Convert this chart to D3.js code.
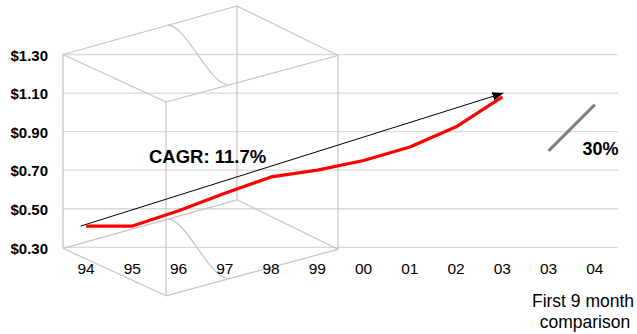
<!DOCTYPE html>
<html>
<head>
<meta charset="utf-8">
<script src="https://cdn.jsdelivr.net/npm/d3@7"></script>
<style>
  html, body { margin: 0; padding: 0; background: #fff; }
  svg { display: block; font-family: "Liberation Sans", Arial, Helvetica, sans-serif; }
</style>
</head>
<body>
<svg id="chart" width="637" height="334"></svg>
<script>
// Category keys along the bottom (annual years, then the two nine-month periods)
const categories = ["94", "95", "96", "97", "98", "99", "00", "01", "02", "03", "03 9M", "04 9M"];
const tickLabels = ["94", "95", "96", "97", "98", "99", "00", "01", "02", "03", "03", "04"];

// Annual earnings per share
const annualYears = ["94", "95", "96", "97", "98", "99", "00", "01", "02", "03"];
const annualValues = [0.41, 0.41, 0.49, 0.58, 0.665, 0.70, 0.75, 0.82, 0.925, 1.08];

// First nine months comparison
const nineMonthCats = ["03 9M", "04 9M"];
const nineMonthValues = [0.80, 1.04];

// Trend arrow (compound annual growth)
const cagrCats = ["94", "03"];
const cagrValues = [0.41, 1.10];
const cagrLabel = "CAGR: 11.7%";
const growthLabel = "30%";

const yTicks = [0.30, 0.50, 0.70, 0.90, 1.10, 1.30];

const svg = d3.select("#chart");
const plot = { left: 63, right: 618, top: 54.5, bottom: 247.3 };

const x = d3.scaleBand().domain(categories).range([plot.left, plot.right]);
const y = d3.scaleLinear().domain([0.30, 1.30]).range([plot.bottom, plot.top]);
const cx = c => x(c) + x.bandwidth() / 2;

// Horizontal gridlines
svg.append("g")
  .selectAll("line")
  .data(yTicks)
  .join("line")
  .attr("x1", plot.left).attr("x2", plot.right)
  .attr("y1", d => y(d)).attr("y2", d => y(d))
  .attr("stroke", "#d9d9d9").attr("stroke-width", 1.3);

// Decorative wire box behind the series
const boxH = plot.bottom - plot.top + 1;
const corner = [
  [0, 0], [103, 47.5], [275, 1], [174, -48.5]
].map(([dx, dy]) => [plot.left + dx, plot.top + dy]);
const box = svg.append("g").attr("fill", "none").attr("stroke", "#c4c4c4").attr("stroke-width", 1.2);
const edges = [[0, 1], [1, 2], [2, 3], [3, 0]];
[0, boxH].forEach(off => {
  edges.forEach(([a, b]) => {
    box.append("line")
      .attr("x1", corner[a][0]).attr("y1", corner[a][1] + off)
      .attr("x2", corner[b][0]).attr("y2", corner[b][1] + off);
  });
});
corner.forEach(([px, py]) => {
  box.append("line").attr("x1", px).attr("y1", py).attr("x2", px).attr("y2", py + boxH);
});
// S-shaped folds on the top and bottom faces
[0, boxH].forEach(off => {
  const p = d3.path();
  p.moveTo(corner[0][0] + 105, 25.3 + off);
  p.bezierCurveTo(corner[0][0] + 122, 24 + off, corner[0][0] + 147, 84.5 + off, corner[0][0] + 164, 84.3 + off);
  box.append("path").attr("d", p.toString());
});

// Y axis labels
const yAxis = d3.axisLeft(y).tickValues(yTicks).tickSize(0).tickPadding(0)
  .tickFormat(d => "$" + d3.format(".2f")(d));
const gy = svg.append("g").attr("transform", "translate(48,0)").call(yAxis);
gy.select(".domain").remove();
gy.selectAll("text")
  .attr("font-family", "Liberation Sans, Arial, sans-serif")
  .attr("font-size", "15px").attr("font-weight", "bold").attr("fill", "#000")
  .attr("dy", "0.38em");

// X axis labels
const xAxis = d3.axisBottom(x).tickSize(0).tickPadding(0)
  .tickFormat((d, i) => tickLabels[i]);
const gx = svg.append("g").attr("transform", "translate(0,274)").call(xAxis);
gx.select(".domain").remove();
gx.selectAll("text")
  .attr("font-family", "Liberation Sans, Arial, sans-serif")
  .attr("font-size", "15.5px").attr("fill", "#000")
  .attr("dy", "0");

// Trend arrow
svg.append("defs").append("marker")
  .attr("id", "arrowhead")
  .attr("markerUnits", "userSpaceOnUse")
  .attr("viewBox", "0 0 10 8")
  .attr("refX", 10).attr("refY", 4)
  .attr("markerWidth", 11).attr("markerHeight", 9)
  .attr("orient", "auto")
  .append("path").attr("d", "M0,0 L10,4 L0,8 Z").attr("fill", "#000");

svg.append("line")
  .attr("x1", cx(cagrCats[0]) - 5.5).attr("y1", y(cagrValues[0]))
  .attr("x2", cx(cagrCats[1]) + 1).attr("y2", y(cagrValues[1]))
  .attr("stroke", "#000").attr("stroke-width", 1)
  .attr("marker-end", "url(#arrowhead)");

// Annual series
const line = d3.line().x(d => cx(d[0])).y(d => y(d[1]));
svg.append("path")
  .datum(annualYears.map((c, i) => [c, annualValues[i]]))
  .attr("d", line)
  .attr("fill", "none").attr("stroke", "#ff0000").attr("stroke-width", 3.2)
  .attr("stroke-linejoin", "round");

// Nine-month comparison segment
svg.append("path")
  .datum(nineMonthCats.map((c, i) => [c, nineMonthValues[i]]))
  .attr("d", line)
  .attr("fill", "none").attr("stroke", "#808080").attr("stroke-width", 3);

// Annotations
svg.append("text")
  .attr("x", 149).attr("y", 162.5)
  .attr("font-size", "18.5px").attr("font-weight", "bold")
  .text(cagrLabel);

svg.append("text")
  .attr("x", 618.5).attr("y", 155).attr("text-anchor", "end")
  .attr("font-size", "18px").attr("font-weight", "bold")
  .text(growthLabel);

const foot = svg.append("text").attr("text-anchor", "middle").attr("font-size", "17.5px");
foot.append("tspan").attr("x", 583).attr("y", 306.7).text("First 9 month");
foot.append("tspan").attr("x", 585).attr("y", 328).text("comparison");
</script>
</body>
</html>
